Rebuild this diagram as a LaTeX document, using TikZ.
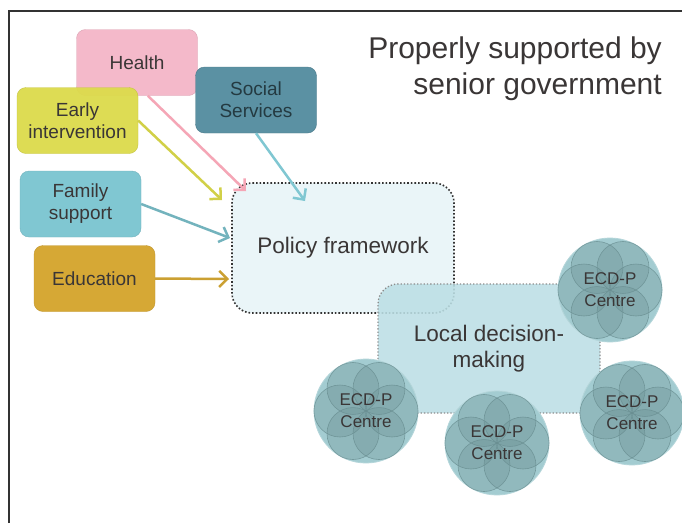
\documentclass[tikz,border=0pt]{standalone}
\usepackage{fontspec}
\setmainfont{Liberation Sans}
\usetikzlibrary{positioning,arrows.meta,calc}
\definecolor{healthpink}{HTML}{F4B9CA}
\definecolor{earlyyellow}{HTML}{DCDB4B}
\definecolor{socialteal}{HTML}{5B91A3}
\definecolor{familyteal}{HTML}{80C7D2}
\definecolor{educgold}{HTML}{D6A835}
\definecolor{policyfill}{HTML}{EAF5F8}
\definecolor{localfill}{HTML}{BCDFE5}
\definecolor{ecdfill}{HTML}{A3CCD1}
\definecolor{ecdline}{HTML}{6A8F92}
\definecolor{inktext}{HTML}{3A3636}

\begin{document}
\begin{tikzpicture}[
  x=1pt, y=-1pt,
  box/.style={draw, rounded corners=9pt, minimum width=121pt, minimum height=66pt,
    align=center, inner sep=2pt, text=inktext, font=\fontsize{19}{22}\selectfont},
  frame/.style={rounded corners=20pt, align=center, text=inktext,
    font=\fontsize{22.5}{26}\selectfont},
  arr/.style={-{Straight Barb[length=8pt,width=16pt]}, line width=2.5pt},
  ecdouter/.style={fill=ecdfill, draw=ecdfill!80!white, line width=0.8pt},
  ecdpetal/.style={fill=ecdline, fill opacity=0.3, draw=ecdline, draw opacity=0.8, line width=0.6pt},
  ecdtext/.style={align=center, inner sep=0pt, text=inktext, font=\fontsize{17}{22}\selectfont}
]
\useasboundingbox (0,0) rectangle (682,523);
\fill[white] (0,0) rectangle (682,523);
\draw[line width=2pt, black!80] (9,523) -- (9,11) -- (682,11);

\node[anchor=east, align=right, inner sep=0pt, text=inktext,
  font=\fontsize{30}{36}\selectfont] (title) at (662,69) {Properly supported by\\senior government};

\node[frame, draw=black!80, dotted, line width=1.6pt, fill=policyfill,
  minimum width=222pt, minimum height=130pt] (policy) at (343,248) {Policy framework};
\node[frame, draw=black!45, dotted, line width=1.3pt, fill=localfill, fill opacity=0.88, text opacity=1,
  minimum width=222pt, minimum height=129pt] (local) at (489,348.5) {Local decision-\\making};

\node[box, fill=healthpink, draw=healthpink!90!black] (health) at (137,62.5) {Health};
\node[box, fill=earlyyellow, draw=earlyyellow!90!black, fill opacity=0.95, text opacity=1] (early) at (77.5,120.5) {Early\\intervention};
\node[box, fill=socialteal, draw=socialteal!85!black, text=socialteal!40!black] (social) at (256,100) {Social\\Services};
\node[box, fill=familyteal, draw=familyteal!90!black] (family) at (80.5,204) {Family\\support};
\node[box, fill=educgold, draw=educgold!90!black] (educ) at (94.5,278.5) {Education};

\coordinate (healthIn) at (246,191);
\coordinate (socialIn) at (305,201);
\coordinate (earlyIn) at (222,200);
\coordinate (familyIn) at (230,238);
\coordinate (educIn) at (229,279);

\draw[arr, draw=healthpink!90!red] (health.-72) -- (healthIn);
\draw[arr, draw=familyteal] (social.south) -- (socialIn);
\draw[arr, draw=earlyyellow!95!black] (early.east) -- (earlyIn);
\draw[arr, draw=familyteal!90!black] (family.east) -- (familyIn);
\draw[arr, draw=educgold!95!black] (educ.east) -- (educIn);

\foreach \n/\cx/\cy in {ecdA/610/290, ecdB/366/411, ecdC/497/443, ecdD/632/413}{
  \filldraw[ecdouter] (\cx,\cy) circle[radius=52];
  \foreach \a in {0,60,...,300}
    \filldraw[ecdpetal] ($(\cx,\cy)+(\a:26pt)$) circle[radius=26];
  \node[ecdtext] (\n) at (\cx,\cy) {ECD-P\\Centre};
}
\end{tikzpicture}
\end{document}
